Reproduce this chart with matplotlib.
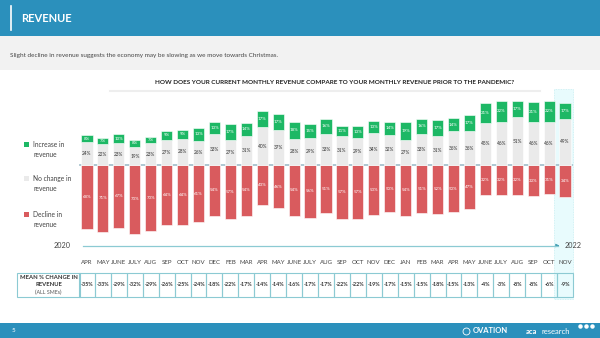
import matplotlib
matplotlib.use("Agg")
import matplotlib.pyplot as plt
from matplotlib.patches import Rectangle, FancyArrowPatch
from matplotlib.transforms import blended_transform_factory
import numpy as np

plt.rcParams['font.family'] = ['Lato', 'DejaVu Sans']

# ---- data -------------------------------------------------------------
months = ["APR", "MAY", "JUNE", "JULY", "AUG", "SEP", "OCT", "NOV", "DEC",
          "FEB", "MAR", "APR", "MAY", "JUNE", "JULY", "AUG", "SEP", "OCT",
          "NOV", "DEC", "JAN", "FEB", "MAR", "APR", "MAY", "JUNE", "JULY",
          "AUG", "SEP", "OCT", "NOV"]
increase = [8, 7, 10, 8, 7, 9, 9, 13, 13, 17, 14, 17, 17, 18, 15, 16, 11,
            13, 13, 14, 19, 16, 17, 14, 17, 21, 22, 17, 21, 22, 17]
no_change = [24, 22, 23, 19, 23, 27, 28, 26, 33, 27, 31, 40, 37, 28, 29, 33,
             31, 29, 34, 32, 27, 33, 31, 36, 36, 45, 46, 51, 46, 46, 49]
decline = [68, 71, 67, 73, 70, 64, 64, 61, 54, 57, 54, 43, 46, 54, 56, 51,
           57, 57, 53, 50, 54, 51, 52, 50, 47, 32, 32, 32, 33, 31, 34]
mean_change = [-35, -33, -29, -32, -29, -26, -25, -24, -18, -22, -17, -14,
               -14, -16, -17, -17, -22, -22, -19, -17, -15, -15, -18, -15,
               -13, -4, -3, -8, -8, -6, -9]

GREEN = "#1DB865"
GREY = "#EAEAEA"
RED = "#D95B5E"
BLUE = "#2B90BC"
TEAL = "#8CCAD3"

W, H = 600, 338
fig = plt.figure(figsize=(W / 100, H / 100), dpi=100)
fig.patch.set_facecolor("white")

# pixel-space canvas for the slide furniture
bg = fig.add_axes([0, 0, 1, 1], zorder=0)
bg.set_xlim(0, W)
bg.set_ylim(H, 0)
bg.axis("off")

# header + subtitle band
bg.add_patch(Rectangle((0, 0), W, 36, color=BLUE, lw=0))
bg.add_patch(Rectangle((0, 36), W, 34, color="#F2F2F2", lw=0))
bg.plot([11, 11], [6, 30], color="white", lw=1.2)
bg.text(21, 18, "REVENUE", color="white", fontsize=8, fontweight="bold",
        va="center", ha="left")
bg.text(10, 55, "Slight decline in revenue suggests the economy may be slowing "
        "as we move towards Christmas.", color="#444444", fontsize=4.6,
        va="center", ha="left")

bg.text(335, 82, "HOW DOES YOUR CURRENT MONTHLY REVENUE COMPARE TO YOUR "
        "MONTHLY REVENUE PRIOR TO THE PANDEMIC?", color="#222222",
        fontsize=4.6, fontweight="bold", ha="center", va="center")
bg.plot([110, 540], [90.5, 90.5], color="#EEEEEE", lw=1.5)

# highlight for the latest month
bg.add_patch(Rectangle((554, 89), 19, 210, facecolor="#E8FBFD",
                       edgecolor="#C6EEF3", lw=0.6, ls=(0, (1, 1))))

# legend
legend = [(GREEN, 144, "Increase in\nrevenue"),
          (GREY, 178, "No change in\nrevenue"),
          (RED, 214, "Decline in\nrevenue")]
for c, y, lbl in legend:
    bg.add_patch(Rectangle((24, y - 2.5), 5, 5, color=c, lw=0))
    bg.text(33, y - 3, lbl, fontsize=4.8, color="#444444", va="top",
            ha="left", linespacing=1.5)

# footer
bg.add_patch(Rectangle((0, 323), W, 15, color=BLUE, lw=0))
bg.text(12, 330.5, "5", color="white", fontsize=4.5, va="center")
bg.plot([466], [330.5], marker="o", ms=5, mfc="none", mec="white", mew=0.6)
bg.text(473, 330.5, "OVATION", color="white", fontsize=5.5, va="center",
        fontweight="bold")
bg.text(526, 332, "aca", color="white", fontsize=5.5, va="center",
        fontweight="bold")
bg.text(541, 332, "research", color="white", fontsize=5.5, va="center")
for dx in (580, 586, 592):
    bg.plot([dx], [325.5], marker="o", ms=2.2, color="white")

# ---- bars -------------------------------------------------------------
n = len(months)
x = np.arange(n)
left_px, right_px = 79, 573
top_px, bot_px = 95, 250
zero_px, scale = 165, 0.94

ax = fig.add_axes([left_px / W, (H - bot_px) / H,
                   (right_px - left_px) / W, (bot_px - top_px) / H], zorder=1)
ax.patch.set_visible(False)
ax.set_xlim(-0.5, n - 0.5)
ax.set_ylim((zero_px - bot_px) / scale, (zero_px - top_px) / scale)
ax.axis("off")

inc = np.array(increase)
nc = np.array(no_change)
dec = np.array(decline)
bw = 0.7
ax.bar(x, -dec, bw, color=RED, edgecolor="white", lw=0.4)
ax.bar(x, nc, bw, color=GREY, edgecolor="white", lw=0.4)
ax.bar(x, inc, bw, bottom=nc, color=GREEN, edgecolor="white", lw=0.4)

for i in range(n):
    ax.text(x[i], nc[i] + inc[i] / 2, f"{inc[i]}%", color="white",
            fontsize=3.2, ha="center", va="center")
    ax.text(x[i], nc[i] / 2, f"{nc[i]}%", color="#333333",
            fontsize=3.4, ha="center", va="center")
    ax.text(x[i], -dec[i] / 2, f"{dec[i]}%", color="white",
            fontsize=3.2, ha="center", va="center")

# zero line, timeline and month labels (x in data units, y in pixels)
tr = blended_transform_factory(ax.transData, bg.transData)
bg.plot([80, 572], [zero_px, zero_px], color="#A7C3CE", lw=1.3, zorder=2)
bg.plot([83, 558], [245.5, 245.5], color=TEAL, lw=0.9)
bg.add_patch(FancyArrowPatch((555, 245.5), (562, 245.5),
                             arrowstyle="-|>", mutation_scale=5,
                             color="#3D9BB0", lw=0.5))
bg.text(71, 246, "2020", fontsize=5.2, color="#444444", ha="right",
        va="center")
bg.text(565, 246, "2022", fontsize=5.2, color="#444444", ha="left",
        va="center")

for i, m in enumerate(months):
    ax.text(x[i], 263, m, transform=tr, fontsize=4.4, color="#444444",
            ha="center", va="center")

# ---- mean change table ------------------------------------------------
t_top, t_bot = 273, 297
bg.add_patch(Rectangle((17, t_top), 63, t_bot - t_top, facecolor="none",
                       edgecolor=TEAL, lw=0.8))
bg.text(48.5, 277.5, "MEAN % CHANGE IN", fontsize=4.2, fontweight="bold",
        color="#333333", ha="center", va="center")
bg.text(48.5, 285, "REVENUE", fontsize=4.2, fontweight="bold",
        color="#333333", ha="center", va="center")
bg.text(48.5, 292.5, "(ALL SMEs)", fontsize=3.8, color="#555555",
        ha="center", va="center")
for i, v in enumerate(mean_change):
    ax.add_patch(Rectangle((x[i] - 0.5, t_top), 1, t_bot - t_top,
                           transform=tr, facecolor="none", edgecolor=TEAL,
                           lw=0.8, clip_on=False))
    ax.text(x[i], (t_top + t_bot) / 2, f"{v}%", transform=tr, fontsize=3.9,
            fontweight="bold", color="#333333", ha="center", va="center")

fig.savefig("out.png", dpi=100, facecolor="white")
